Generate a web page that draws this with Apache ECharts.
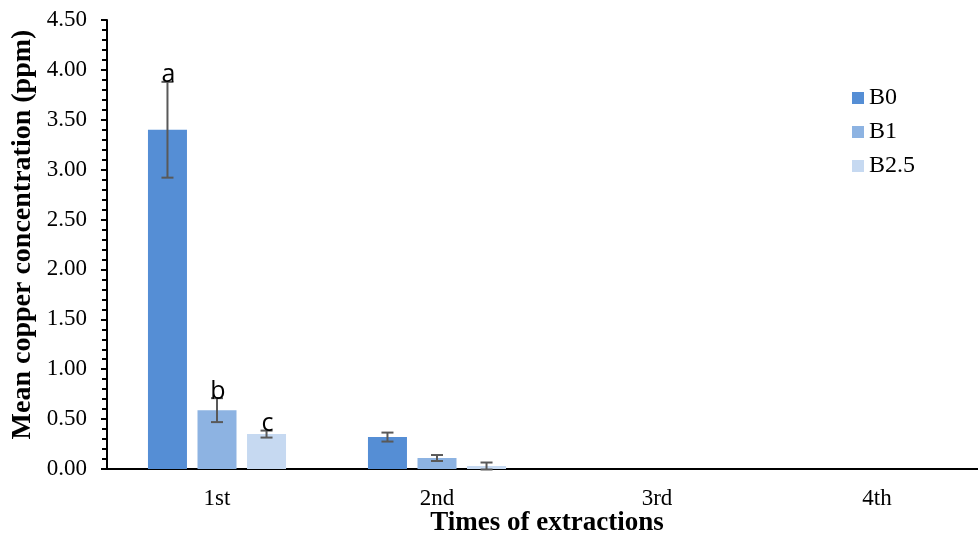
<!DOCTYPE html>
<html>
<head>
<meta charset="utf-8">
<script src="https://cdn.jsdelivr.net/npm/echarts@6/dist/echarts.min.js"></script>
<style>
  html, body { margin: 0; padding: 0; background: #fff; }
  #main { width: 978px; height: 533px; }
</style>
</head>
<body>
<div id="main"></div>
<script>
// 数据
var categories = ['1st', '2nd', '3rd', '4th'];
var seriesNames = ['B0', 'B1', 'B2.5'];
var b0 = [3.40, 0.32, 0, 0];
var b1 = [0.59, 0.11, 0, 0];
var b25 = [0.35, 0.03, 0, 0];
var b0Err = [0.48, 0.045, 0, 0];
var b1Err = [0.12, 0.03, 0, 0];
var b25Err = [0.035, 0.035, 0, 0];
var b0Letters = ['a', '', '', ''];
var b1Letters = ['b', '', '', ''];
var b25Letters = ['c', '', '', ''];
var yTicks = [0, 0.5, 1, 1.5, 2, 2.5, 3, 3.5, 4, 4.5];

var colors = ['#558ed5', '#8db3e2', '#c6d9f1'];
var BAR_W = 39;
var GAP = 0.27; // barGap 占 barWidth 的比例

var myChart = echarts.init(document.getElementById('main'));

// 误差线 + 字母标注
function errSeries(idx, values, errs, letters) {
    var data = [];
    for (var i = 0; i < values.length; i++) {
        data.push([i, values[i], errs[i], letters[i]]);
    }
    return {
        type: 'custom',
        name: seriesNames[idx] + '_err',
        z: 5,
        silent: true,
        data: data,
        renderItem: function (params, api) {
            var ci = api.value(0);
            var v = api.value(1);
            var e = api.value(2);
            var letter = data[params.dataIndex][3];
            var step = BAR_W * (1 + GAP);
            var dx = (idx - 1) * step;
            var top = api.coord([ci, v + e]);
            var bot = api.coord([ci, v - e]);
            var x = top[0] + dx;
            var children = [];
            if (e > 0) {
                var st = { stroke: '#595959', lineWidth: 2 };
                children.push({ type: 'line', shape: { x1: x, y1: top[1], x2: x, y2: bot[1] }, style: st });
                children.push({ type: 'line', shape: { x1: x - 6, y1: top[1], x2: x + 6, y2: top[1] }, style: st });
                children.push({ type: 'line', shape: { x1: x - 6, y1: bot[1], x2: x + 6, y2: bot[1] }, style: st });
            }
            if (letter) {
                children.push({
                    type: 'text',
                    x: x + 1,
                    y: top[1] + 6,
                    style: {
                        text: letter,
                        fill: '#000',
                        font: '25px "Open Sans", sans-serif',
                        align: 'center',
                        verticalAlign: 'bottom'
                    }
                });
            }
            return { type: 'group', children: children };
        }
    };
}

function barSeries(idx, values) {
    return {
        type: 'bar',
        name: seriesNames[idx],
        data: values,
        barWidth: BAR_W,
        barGap: (GAP * 100) + '%',
        itemStyle: { color: colors[idx] }
    };
}

var option = {
    backgroundColor: '#fff',
    animation: false,
    grid: { left: 107, top: 20, width: 880, height: 449, outerBoundsMode: 'none', containLabel: false },
    legend: {
        data: seriesNames,
        orient: 'vertical',
        left: 847,
        top: 81,
        itemWidth: 12,
        itemHeight: 12,
        itemGap: 10,
        icon: 'rect',
        textStyle: { fontFamily: 'Liberation Serif', fontSize: 24, color: '#000' }
    },
    xAxis: {
        type: 'category',
        data: categories,
        name: 'Times of extractions',
        nameLocation: 'middle',
        nameGap: 41,
        nameMoveOverlap: false,
        nameTextStyle: { fontFamily: 'Liberation Serif', fontSize: 27, fontWeight: 'bold', color: '#000' },
        axisLine: { lineStyle: { color: '#000', width: 2 } },
        axisTick: { show: false },
        axisLabel: { fontFamily: 'Liberation Serif', fontSize: 23, color: '#000', margin: 18 }
    },
    yAxis: {
        type: 'value',
        min: yTicks[0],
        max: yTicks[yTicks.length - 1],
        interval: 0.5,
        name: 'Mean copper concentration (ppm)',
        nameLocation: 'middle',
        nameGap: 70,
        nameMoveOverlap: false,
        nameTextStyle: {
            fontFamily: 'Liberation Serif', fontSize: 28, fontWeight: 'bold', color: '#000',
            padding: [0, 0, 0, 20]
        },
        axisLine: { show: true, lineStyle: { color: '#000', width: 2 } },
        axisTick: { show: true, length: 6, lineStyle: { color: '#000', width: 2 } },
        minorTick: { show: true, splitNumber: 5, length: 5, lineStyle: { color: '#000', width: 2 } },
        splitLine: { show: false },
        axisLabel: {
            fontFamily: 'Liberation Serif', fontSize: 23, color: '#000', margin: 20,
            formatter: function (v) { return v.toFixed(2); }
        }
    },
    series: [
        barSeries(0, b0),
        barSeries(1, b1),
        barSeries(2, b25),
        errSeries(0, b0, b0Err, b0Letters),
        errSeries(1, b1, b1Err, b1Letters),
        errSeries(2, b25, b25Err, b25Letters)
    ]
};
myChart.setOption(option);
</script>
</body>
</html>
